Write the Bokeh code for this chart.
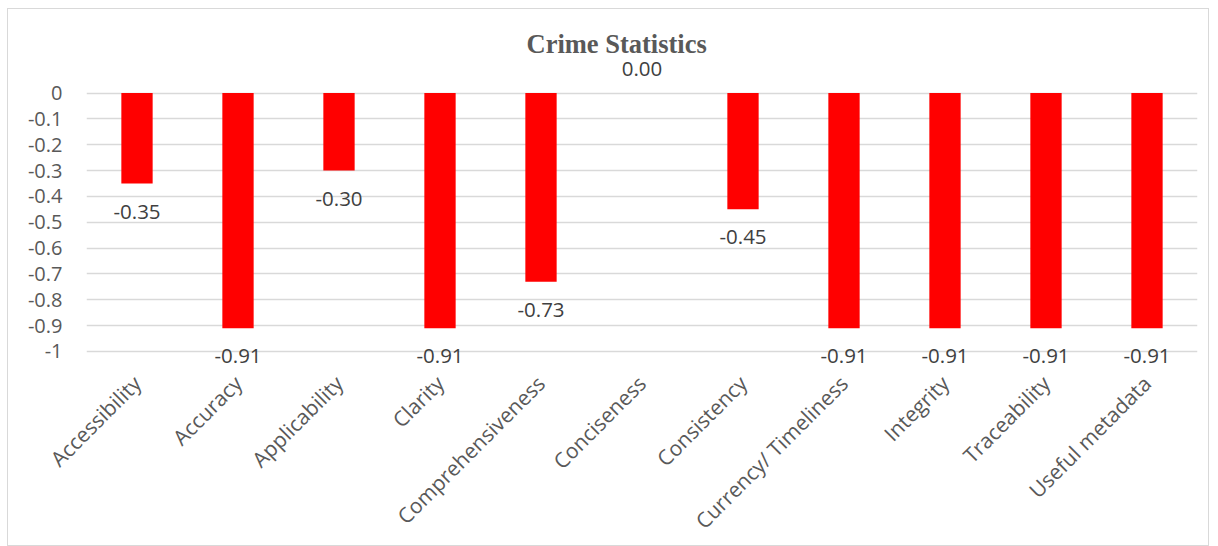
import math
from bokeh.plotting import figure
from bokeh.models import Range1d, FixedTicker, ColumnDataSource, Title
from bokeh.core.properties import value
from bokeh.embed import file_html
from bokeh.resources import INLINE

categories = ["Accessibility", "Accuracy", "Applicability", "Clarity", "Comprehensiveness",
              "Conciseness", "Consistency", "Currency/ Timeliness", "Integrity",
              "Traceability", "Useful metadata"]
scores = [-0.35, -0.91, -0.30, -0.91, -0.73, 0.00, -0.45, -0.91, -0.91, -0.91, -0.91]
y_ticks = [0, -0.1, -0.2, -0.3, -0.4, -0.5, -0.6, -0.7, -0.8, -0.9, -1]
y_tick_labels = ["0", "-0.1", "-0.2", "-0.3", "-0.4", "-0.5", "-0.6", "-0.7", "-0.8", "-0.9", "-1"]

FONT = "Open Sans"
GREY = "#595959"

p = figure(x_range=categories, y_range=Range1d(-1.07, 0.13), width=1202, height=538,
           output_backend="svg", toolbar_location=None,
           min_border_left=78, min_border_right=13, min_border_top=50, min_border_bottom=175)
p.margin = (8, 0, 0, 7)
p.styles = {"border": "1px solid #d9d9d9"}
p.outline_line_color = None

p.title = Title(text="Crime Statistics", align="left", offset=440,
                text_font="Liberation Serif", text_font_style="bold",
                text_font_size="26.5px", text_color=GREY, standoff=2)

neg_src = ColumnDataSource(dict(cat=[c for c, v in zip(categories, scores) if v < 0],
                                val=[v for v in scores if v < 0],
                                lab=["%.2f" % v for v in scores if v < 0]))
zero_src = ColumnDataSource(dict(cat=[c for c, v in zip(categories, scores) if v >= 0],
                                 val=[v for v in scores if v >= 0],
                                 lab=["%.2f" % v for v in scores if v >= 0]))
bar_src = ColumnDataSource(dict(cat=categories, val=scores))

p.vbar(x="cat", top="val", bottom=0, width=0.31, source=bar_src,
       fill_color="#FF0000", line_color=None)

p.text(x="cat", y="val", text="lab", source=neg_src, y_offset=28,
       text_align="center", text_baseline="middle", text_font=value(FONT),
       text_font_size="20.5px", text_color="#404040")
p.text(x="cat", y="val", text="lab", source=zero_src, y_offset=-24,
       text_align="center", text_baseline="middle", text_font=value(FONT),
       text_font_size="20.5px", text_color="#404040")

p.yaxis.ticker = FixedTicker(ticks=y_ticks)
p.yaxis.major_label_overrides = {t: l for t, l in zip(y_ticks, y_tick_labels)}
p.yaxis.axis_line_color = None
p.yaxis.major_tick_line_color = None
p.yaxis.minor_tick_line_color = None
p.yaxis.major_label_standoff = 18
p.yaxis.major_label_text_font = FONT
p.yaxis.major_label_text_font_size = "20px"
p.yaxis.major_label_text_color = GREY

p.xaxis.axis_line_color = None
p.xaxis.major_tick_line_color = None
p.xaxis.major_label_orientation = math.pi / 4
p.xaxis.major_label_standoff = 4
p.xaxis.major_label_text_font = FONT
p.xaxis.major_label_text_font_size = "21px"
p.xaxis.major_label_text_color = GREY

p.xgrid.grid_line_color = None
p.ygrid.grid_line_color = "#d9d9d9"
p.ygrid.grid_line_width = 1.5

open("out.html", "w").write(file_html(p, INLINE))
